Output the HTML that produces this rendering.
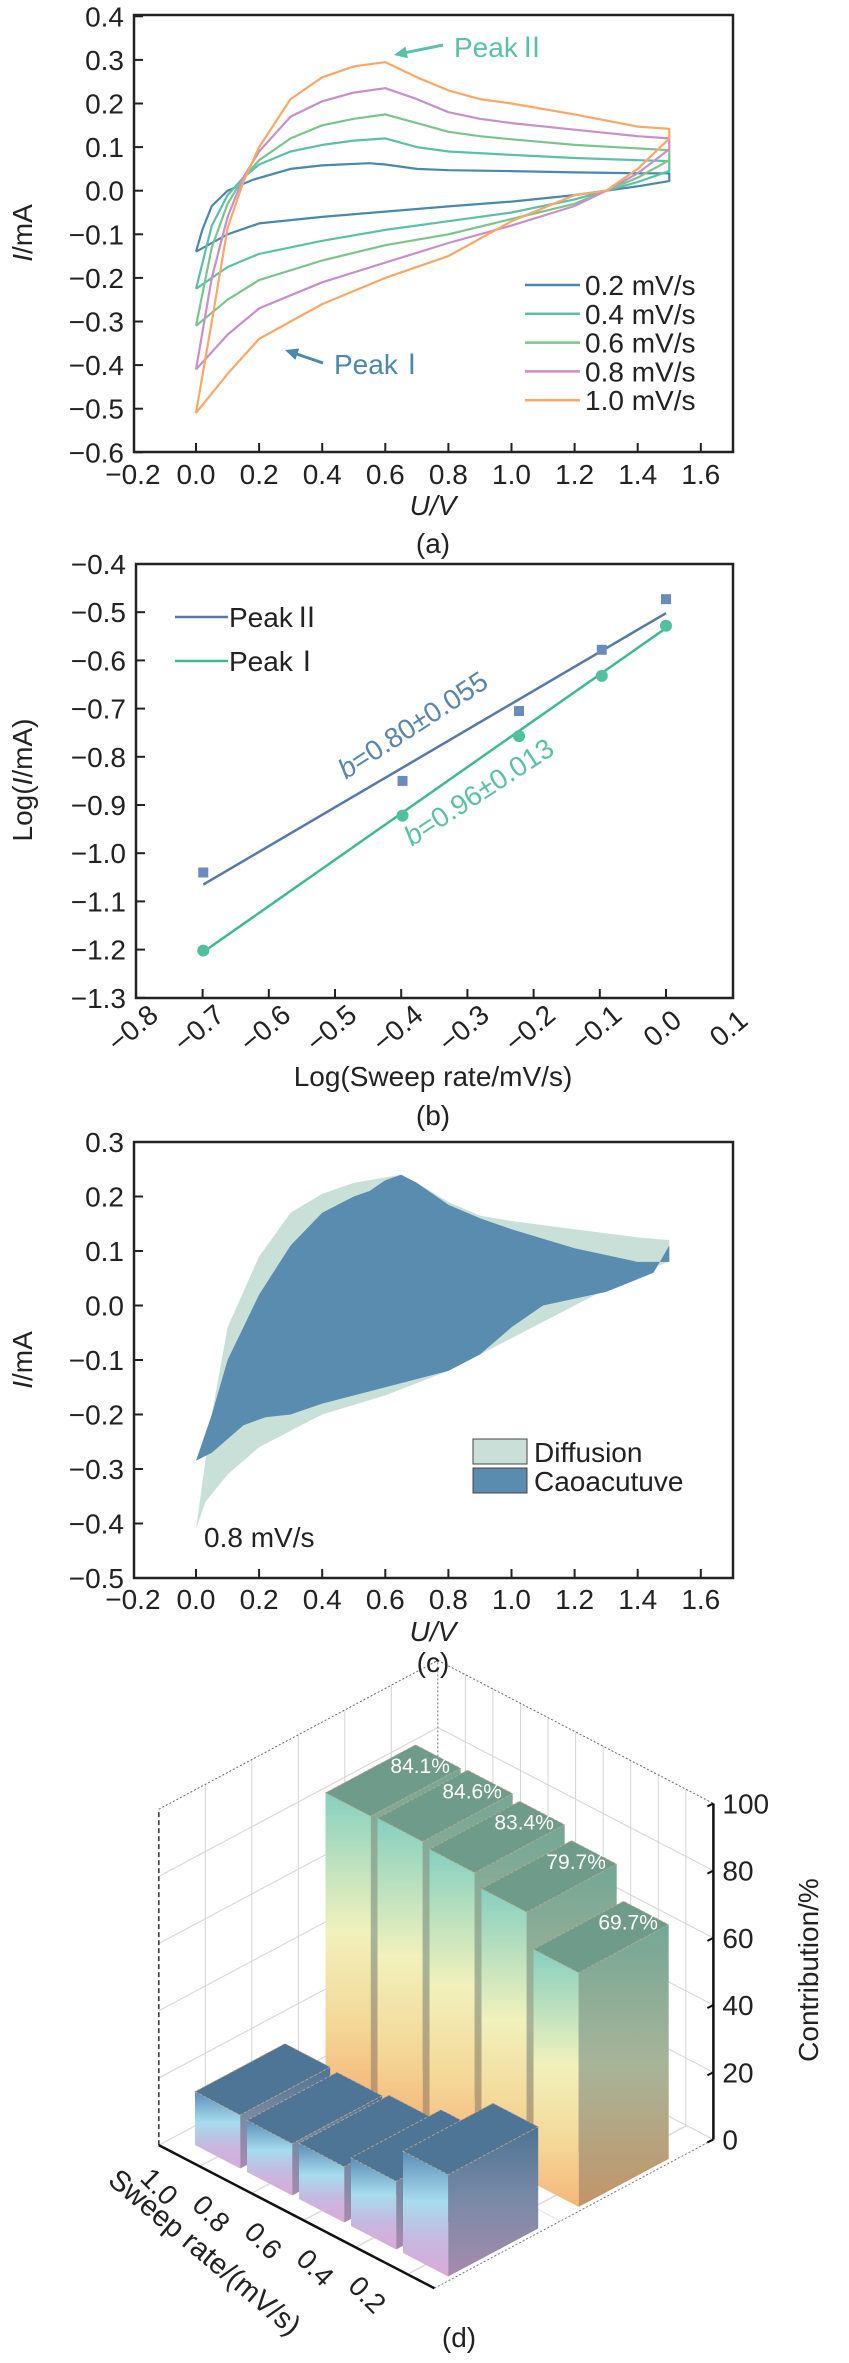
<!DOCTYPE html>
<html><head><meta charset="utf-8">
<style>
html,body{margin:0;padding:0;background:#fff;}
svg{display:block;font-family:"Liberation Sans","Noto Sans CJK SC",sans-serif;}
</style></head>
<body>
<svg id="fig" width="849" height="2363" viewBox="0 0 849 2363">
<defs>
<linearGradient id="tallFront" x1="0" y1="0" x2="0" y2="1">
<stop offset="0" stop-color="#86cfc0"/><stop offset="0.45" stop-color="#f1f1bc"/><stop offset="0.75" stop-color="#f4d898"/><stop offset="1" stop-color="#f6b67a"/>
</linearGradient>
<linearGradient id="tallSide" x1="0" y1="0" x2="0" y2="1">
<stop offset="0" stop-color="#74a696"/><stop offset="0.5" stop-color="#a8b498"/><stop offset="1" stop-color="#c29468"/>
</linearGradient>
<linearGradient id="shortFront" x1="0" y1="0" x2="0" y2="1">
<stop offset="0" stop-color="#5b8db8"/><stop offset="0.4" stop-color="#a6dcee"/><stop offset="0.7" stop-color="#c6b8e0"/><stop offset="1" stop-color="#dcaad8"/>
</linearGradient>
<linearGradient id="shortSide" x1="0" y1="0" x2="0" y2="1">
<stop offset="0" stop-color="#4e7394"/><stop offset="0.5" stop-color="#7a8aa6"/><stop offset="1" stop-color="#a88aae"/>
</linearGradient>
</defs>
</svg>
<script>
// ---------- data: panel (a) ----------
const cvRates = ['0.2 mV/s','0.4 mV/s','0.6 mV/s','0.8 mV/s','1.0 mV/s'];
const cvColors = ['#4a88ac','#5cc0a8','#7cc48c','#c890c8','#f8a868'];
const cvU02 = [0,0.02,0.05,0.1,0.18,0.3,0.4,0.55,0.6,0.7,0.8,1.0,1.2,1.4,1.5,1.5,1.4,1.2,1.0,0.8,0.6,0.4,0.2,0.1,0];
const cvI02 = [-0.14,-0.09,-0.035,0.0,0.025,0.05,0.058,0.063,0.06,0.05,0.047,0.045,0.042,0.04,0.04,0.022,0.01,-0.01,-0.025,-0.036,-0.048,-0.06,-0.075,-0.1,-0.14];
const cvU04 = [0,0.05,0.1,0.15,0.2,0.3,0.4,0.5,0.6,0.7,0.8,1.0,1.2,1.4,1.5,1.5,1.4,1.2,1.0,0.8,0.6,0.4,0.2,0.1,0];
const cvI04 = [-0.225,-0.08,-0.01,0.03,0.06,0.09,0.105,0.115,0.12,0.1,0.09,0.082,0.075,0.07,0.068,0.045,0.02,-0.02,-0.05,-0.07,-0.09,-0.115,-0.145,-0.175,-0.225];
const cvU06 = [0,0.05,0.1,0.15,0.2,0.3,0.4,0.5,0.6,0.7,0.8,0.9,1.0,1.2,1.4,1.5,1.5,1.4,1.2,1.0,0.8,0.6,0.4,0.2,0.1,0];
const cvI06 = [-0.31,-0.13,-0.03,0.03,0.07,0.12,0.15,0.165,0.175,0.155,0.135,0.125,0.118,0.105,0.097,0.093,0.07,0.03,-0.03,-0.065,-0.1,-0.125,-0.16,-0.205,-0.25,-0.31];
const cvU08 = [0,0.05,0.1,0.15,0.2,0.3,0.4,0.5,0.6,0.7,0.8,0.9,1.0,1.2,1.4,1.5,1.5,1.4,1.3,1.2,1.0,0.8,0.6,0.4,0.3,0.2,0.1,0];
const cvI08 = [-0.41,-0.2,-0.06,0.03,0.09,0.17,0.205,0.225,0.235,0.21,0.18,0.165,0.155,0.14,0.125,0.12,0.095,0.04,0.0,-0.035,-0.08,-0.12,-0.165,-0.21,-0.24,-0.27,-0.33,-0.41];
const cvU10 = [0,0.05,0.1,0.15,0.2,0.3,0.4,0.5,0.6,0.7,0.8,0.9,1.0,1.2,1.4,1.5,1.5,1.4,1.3,1.2,1.0,0.8,0.6,0.4,0.3,0.2,0.1,0];
const cvI10 = [-0.51,-0.3,-0.085,0.02,0.1,0.21,0.26,0.285,0.295,0.26,0.23,0.21,0.2,0.175,0.147,0.142,0.12,0.05,0.0,-0.01,-0.07,-0.15,-0.2,-0.26,-0.3,-0.34,-0.42,-0.51];
const cvUs = [cvU02,cvU04,cvU06,cvU08,cvU10];
const cvIs = [cvI02,cvI04,cvI06,cvI08,cvI10];
const aXTicks = [-0.2,0,0.2,0.4,0.6,0.8,1.0,1.2,1.4,1.6];
const aYTicks = [-0.6,-0.5,-0.4,-0.3,-0.2,-0.1,0,0.1,0.2,0.3,0.4];

// ---------- data: panel (b) ----------
const logRate = [-0.699,-0.398,-0.222,-0.097,0];
const peak2Log = [-1.04,-0.85,-0.705,-0.578,-0.473];
const peak1Log = [-1.202,-0.922,-0.757,-0.632,-0.528];
const peak2Fit = [-1.065,-0.502];
const peak1Fit = [-1.205,-0.533];
const fitX = [-0.699,0];
const bXTicks = [-0.8,-0.7,-0.6,-0.5,-0.4,-0.3,-0.2,-0.1,0,0.1];
const bYTicks = [-1.3,-1.2,-1.1,-1.0,-0.9,-0.8,-0.7,-0.6,-0.5,-0.4];

// ---------- data: panel (c) ----------
const totU = [0,0.05,0.1,0.2,0.3,0.4,0.5,0.6,0.65,0.7,0.8,0.9,1.0,1.2,1.4,1.5,1.5,1.4,1.3,1.2,1.0,0.8,0.6,0.4,0.3,0.2,0.1,0.03,0];
const totI = [-0.41,-0.2,-0.04,0.09,0.17,0.205,0.225,0.235,0.24,0.225,0.19,0.165,0.155,0.14,0.125,0.12,0.08,0.06,0.03,0.0,-0.06,-0.12,-0.165,-0.2,-0.23,-0.26,-0.31,-0.36,-0.41];
const capU = [0,0.05,0.1,0.2,0.3,0.4,0.5,0.55,0.6,0.65,0.7,0.8,0.9,1.0,1.2,1.4,1.5,1.5,1.45,1.3,1.1,1.0,0.9,0.8,0.6,0.4,0.3,0.22,0.15,0.05,0];
const capI = [-0.285,-0.2,-0.1,0.02,0.11,0.17,0.2,0.21,0.23,0.24,0.225,0.185,0.16,0.14,0.105,0.08,0.08,0.11,0.06,0.025,0.0,-0.04,-0.09,-0.12,-0.15,-0.18,-0.2,-0.205,-0.22,-0.27,-0.285];
const cYTicks = [-0.5,-0.4,-0.3,-0.2,-0.1,0,0.1,0.2,0.3];

// ---------- data: panel (d) ----------
const sweepLabels = ['0.2','0.4','0.6','0.8','1.0'];
const capacitive = [69.7,79.7,83.4,84.6,84.1];
const diffusion = [30.3,20.3,16.6,15.4,15.9];
const capLabels = ['69.7%','79.7%','83.4%','84.6%','84.1%'];
const zTicks = [0,20,40,60,80,100];

const NS='http://www.w3.org/2000/svg';
const svg=document.getElementById('fig');
function mk(p,tag,a){const e=document.createElementNS(NS,tag);for(const k in a)e.setAttribute(k,a[k]);p.appendChild(e);return e;}
function nm(e,n){
  
  
  return e;
}
function group(n){const g=mk(svg,'g',{});nm(g,n);return g;}
function txt(p,s,x,y,a){const t=mk(p,'text',Object.assign({x:x,y:y},a||{}));t.textContent=s;return t;}
function fmt(v,d){if(Math.abs(v)<1e-9)return (0).toFixed(d);return v<0?'\u2212'+(-v).toFixed(d):v.toFixed(d);}
const FS=28;

// ===== panel a =====
const ax=u=>196+u*315.5, ay=i=>190.7-i*436;
const ga=group('panel-a');
nm(mk(ga,'rect',{x:134,y:15,width:599,height:437,fill:'none',stroke:'#222','stroke-width':2.5}),'plot-frame-a');
aXTicks.forEach(v=>{
  if(v>-0.19) nm(mk(ga,'line',{x1:ax(v),x2:ax(v),y1:452,y2:443,stroke:'#222','stroke-width':2}),'x-tick-a');
  nm(txt(ga,fmt(v,1),ax(v),484,{'font-size':FS,'text-anchor':'middle',fill:'#222'}),'x-tick-label-a');
});
aYTicks.forEach(v=>{
  nm(mk(ga,'line',{x1:134,x2:143,y1:ay(v),y2:ay(v),stroke:'#222','stroke-width':2}),'y-tick-a');
  nm(txt(ga,fmt(v,1),124,ay(v)+10,{'font-size':FS,'text-anchor':'end',fill:'#222'}),'y-tick-label-a');
});
cvUs.forEach((U,s)=>{
  const d=U.map((u,k)=>(k?'L':'M')+ax(u).toFixed(1)+' '+ay(cvIs[s][k]).toFixed(1)).join(' ');
  const p=mk(ga,'path',{d:d,fill:'none',stroke:cvColors[s],'stroke-width':2.2,'stroke-linejoin':'round'});
  nm(p,'cv-curve-'+s);
  const ly=285+s*28.8;
  nm(mk(ga,'line',{x1:525,x2:580,y1:ly,y2:ly,stroke:cvColors[s],'stroke-width':2.5}),'legend-line');
  nm(txt(ga,cvRates[s],585,ly+10,{'font-size':FS,fill:'#222'}),'legend-label');
});
nm(txt(ga,'U/V',433,515,{'font-size':FS,'text-anchor':'middle','font-style':'italic',fill:'#222'}),'x-axis-title-a');
nm(txt(ga,'(a)',433,553,{'font-size':FS,'text-anchor':'middle',fill:'#222'}),'panel-label-a');
const yta=txt(ga,'',32,233,{'font-size':FS,'text-anchor':'middle',transform:'rotate(-90 32 233)',fill:'#222'});
nm(yta,'y-axis-title-a');
yta.innerHTML='<tspan font-style="italic">I</tspan>/mA';
function arrow(g,x1,y1,x2,y2,c,n){
  const a=Math.atan2(y2-y1,x2-x1),L=13,W=6;
  nm(mk(g,'line',{x1:x1,y1:y1,x2:x2-Math.cos(a)*L*0.8,y2:y2-Math.sin(a)*L*0.8,stroke:c,'stroke-width':3}),n+'-shaft');
  const bx=x2-Math.cos(a)*L,by=y2-Math.sin(a)*L;
  nm(mk(g,'polygon',{points:`${x2},${y2} ${bx-Math.sin(a)*W},${by+Math.cos(a)*W} ${bx+Math.sin(a)*W},${by-Math.cos(a)*W}`,fill:c}),n+'-head');
}
arrow(ga,443,45,394,55,'#5cc0a8','peak2-arrow');
nm(txt(ga,'Peak\u2161',454,57,{'font-size':FS,fill:'#5cc0a8'}),'peak2-label');
arrow(ga,323,363,285,350,'#4a88ac','peak1-arrow');
nm(txt(ga,'Peak\u2160',334,374,{'font-size':FS,fill:'#4a88ac'}),'peak1-label');

// ===== panel b =====
const bx=x=>666+x*662, by=y=>564+(-0.4-y)*482;
const gb=group('panel-b');
nm(mk(gb,'rect',{x:136,y:564,width:597,height:434,fill:'none',stroke:'#222','stroke-width':2.5}),'plot-frame-b');
bXTicks.forEach(v=>{
  if(v>-0.79&&v<0.09) nm(mk(gb,'line',{x1:bx(v),x2:bx(v),y1:998,y2:989,stroke:'#222','stroke-width':2}),'x-tick-b');
  const cx=bx(v)-4,cy=1028;
  nm(txt(gb,fmt(v,1),cx,cy+10,{'font-size':FS,'text-anchor':'middle',transform:`rotate(-40 ${cx} ${cy})`,fill:'#222'}),'x-tick-label-b');
});
bYTicks.forEach(v=>{
  nm(mk(gb,'line',{x1:136,x2:145,y1:by(v),y2:by(v),stroke:'#222','stroke-width':2}),'y-tick-b');
  nm(txt(gb,fmt(v,1),126,by(v)+10,{'font-size':FS,'text-anchor':'end',fill:'#222'}),'y-tick-label-b');
});
nm(mk(gb,'line',{x1:bx(fitX[0]),y1:by(peak2Fit[0]),x2:bx(fitX[1]),y2:by(peak2Fit[1]),stroke:'#5878a8','stroke-width':2.5}),'fit-line-peak2');
nm(mk(gb,'line',{x1:bx(fitX[0]),y1:by(peak1Fit[0]),x2:bx(fitX[1]),y2:by(peak1Fit[1]),stroke:'#40b898','stroke-width':2.5}),'fit-line-peak1');
logRate.forEach((x,k)=>{
  nm(mk(gb,'rect',{x:bx(x)-5,y:by(peak2Log[k])-5,width:10,height:10,fill:'#6a8cbc'}),'point-peak2');
  nm(mk(gb,'circle',{cx:bx(x),cy:by(peak1Log[k]),r:6,fill:'#50c0a0'}),'point-peak1');
});
nm(mk(gb,'line',{x1:175,x2:228,y1:617,y2:617,stroke:'#5878a8','stroke-width':2.5}),'legend-line-peak2');
nm(txt(gb,'Peak\u2161',229,627,{'font-size':FS,fill:'#222'}),'legend-label-peak2');
nm(mk(gb,'line',{x1:175,x2:228,y1:661,y2:661,stroke:'#40b898','stroke-width':2.5}),'legend-line-peak1');
nm(txt(gb,'Peak\u2160',229,671,{'font-size':FS,fill:'#222'}),'legend-label-peak1');
const t1=txt(gb,'',418,733,{'font-size':FS,'text-anchor':'middle',fill:'#5b86a8',transform:'rotate(-33 418 733)'});
nm(t1,'slope-label-peak2');
t1.innerHTML='<tspan font-style="italic">b</tspan>=0.80±0.055';
const t2=txt(gb,'',484,800,{'font-size':FS,'text-anchor':'middle',fill:'#5cc0a8',transform:'rotate(-33 484 800)'});
nm(t2,'slope-label-peak1');
t2.innerHTML='<tspan font-style="italic">b</tspan>=0.96±0.013';
nm(txt(gb,'Log(Sweep rate/mV/s)',433,1086,{'font-size':FS,'text-anchor':'middle',fill:'#222'}),'x-axis-title-b');
nm(txt(gb,'(b)',433,1125,{'font-size':FS,'text-anchor':'middle',fill:'#222'}),'panel-label-b');
const ytb=txt(gb,'',32,780,{'font-size':FS,'text-anchor':'middle',transform:'rotate(-90 32 780)',fill:'#222'});
nm(ytb,'y-axis-title-b');
ytb.innerHTML='Log(<tspan font-style="italic">I</tspan>/mA)';

// ===== panel c =====
const cy=i=>1142+(0.3-i)*545;
const gc=group('panel-c');
nm(mk(gc,'polygon',{points:totU.map((u,k)=>ax(u).toFixed(1)+','+cy(totI[k]).toFixed(1)).join(' '),fill:'#c8e0d8'}),'diffusion-area');
nm(mk(gc,'polygon',{points:capU.map((u,k)=>ax(u).toFixed(1)+','+cy(capI[k]).toFixed(1)).join(' '),fill:'#5a8cb0'}),'capacitive-area');
nm(mk(gc,'rect',{x:134,y:1142,width:599,height:436,fill:'none',stroke:'#222','stroke-width':2.5}),'plot-frame-c');
aXTicks.forEach(v=>{
  if(v>-0.19) nm(mk(gc,'line',{x1:ax(v),x2:ax(v),y1:1578,y2:1569,stroke:'#222','stroke-width':2}),'x-tick-c');
  nm(txt(gc,fmt(v,1),ax(v),1609,{'font-size':FS,'text-anchor':'middle',fill:'#222'}),'x-tick-label-c');
});
cYTicks.forEach(v=>{
  nm(mk(gc,'line',{x1:134,x2:143,y1:cy(v),y2:cy(v),stroke:'#222','stroke-width':2}),'y-tick-c');
  nm(txt(gc,fmt(v,1),124,cy(v)+10,{'font-size':FS,'text-anchor':'end',fill:'#222'}),'y-tick-label-c');
});
nm(mk(gc,'rect',{x:473,y:1439,width:54,height:25,fill:'#c8e0d8',stroke:'#444','stroke-width':1}),'legend-swatch-diffusion');
nm(txt(gc,'Diffusion',534,1462,{'font-size':FS,fill:'#222'}),'legend-label-diffusion');
nm(mk(gc,'rect',{x:473,y:1468,width:54,height:25,fill:'#5a8cb0',stroke:'#444','stroke-width':1}),'legend-swatch-capacitive');
nm(txt(gc,'Caoacutuve',534,1491,{'font-size':FS,fill:'#222'}),'legend-label-capacitive');
nm(txt(gc,'0.8 mV/s',204,1547,{'font-size':FS,fill:'#222'}),'scan-rate-note');
nm(txt(gc,'U/V',433,1641,{'font-size':FS,'text-anchor':'middle','font-style':'italic',fill:'#222'}),'x-axis-title-c');
const ytc=txt(gc,'',32,1360,{'font-size':FS,'text-anchor':'middle',transform:'rotate(-90 32 1360)',fill:'#222'});
nm(ytc,'y-axis-title-c');
ytc.innerHTML='<tspan font-style="italic">I</tspan>/mA';

// ===== panel d (3D bars) =====
const K=3.36;
const P=(u,v,z)=>[195+u*52+v*90, 2145+u*27-v*48-z*K];
const pt=a=>a.map(q=>q[0].toFixed(1)+','+q[1].toFixed(1)).join(' ');
const gd=group('panel-d');
const U0=-0.35,U1=4.95,V0=-0.2,V1=2.9;
nm(mk(gd,'polygon',{points:pt([P(U0,V0,0),P(U0,V1,0),P(U0,V1,100),P(U0,V0,100)]),fill:'none'}),'left-wall');
nm(mk(gd,'polygon',{points:pt([P(U0,V1,0),P(U1,V1,0),P(U1,V1,100),P(U0,V1,100)]),fill:'none'}),'back-wall');
for(let k=1;k<6;k++){const v=V0+k*(V1-V0)/6;const a=P(U0,v,0),b=P(U0,v,100);
  nm(mk(gd,'line',{x1:a[0],y1:a[1],x2:b[0],y2:b[1],stroke:'#d4d4d4','stroke-width':1}),'left-wall-grid');}
for(let k=1;k<10;k++){const u=U0+k*(U1-U0)/10;const a=P(u,V1,0),b=P(u,V1,100);
  nm(mk(gd,'line',{x1:a[0],y1:a[1],x2:b[0],y2:b[1],stroke:'#d4d4d4','stroke-width':1}),'back-wall-grid');}
zTicks.forEach(z=>{
  const a=P(U0,V0,z),b=P(U0,V1,z),c=P(U1,V1,z);
  nm(mk(gd,'polyline',{points:pt([a,b,c]),fill:'none',stroke:z==100?'#666':'#d4d4d4','stroke-width':1,'stroke-dasharray':z==100?'2 2':'none'}),'wall-grid-z');
});
for(let k=0;k<5;k++){const a=P(4-k+0.435,V0,0),b=P(4-k+0.435,V1,0);
  nm(mk(gd,'line',{x1:a[0],y1:a[1],x2:b[0],y2:b[1],stroke:'#dcdcdc','stroke-width':1.5}),'floor-grid');}
[0.5,1.2,2.0].forEach(v=>{const a=P(U0,v,0),b=P(U1,v,0);
  nm(mk(gd,'line',{x1:a[0],y1:a[1],x2:b[0],y2:b[1],stroke:'#e4e4e4','stroke-width':1}),'floor-grid');});
{const a=P(U0,V0,0),b=P(U0,V0,100);nm(mk(gd,'line',{x1:a[0],y1:a[1],x2:b[0],y2:b[1],stroke:'#333','stroke-width':1.5,'stroke-dasharray':'5 3'}),'left-wall-edge');}
{const a=P(U0,V1,0),b=P(U0,V1,100);nm(mk(gd,'line',{x1:a[0],y1:a[1],x2:b[0],y2:b[1],stroke:'#777','stroke-width':1,'stroke-dasharray':'2 2'}),'back-corner-edge');}
{const a=P(U1,V0,0),b=P(U1,V1,0);nm(mk(gd,'line',{x1:a[0],y1:a[1],x2:b[0],y2:b[1],stroke:'#777','stroke-width':1,'stroke-dasharray':'2 2'}),'floor-right-edge');}
function box(p,v0,v1,h,front,side,top,n){
  const u0=p,u1=p+0.87;
  nm(mk(gd,'polygon',{points:pt([P(u0,v0,0),P(u1,v0,0),P(u1,v0,h),P(u0,v0,h)]),fill:front}),n+'-front');
  nm(mk(gd,'polygon',{points:pt([P(u1,v0,0),P(u1,v1,0),P(u1,v1,h),P(u1,v0,h)]),fill:side}),n+'-side');
  nm(mk(gd,'polygon',{points:pt([P(u0,v0,h),P(u1,v0,h),P(u1,v1,h),P(u0,v1,h)]),fill:top,stroke:'#c8a888','stroke-width':0.8,'stroke-dasharray':'3 2'}),n+'-top');
}
for(let i=4;i>=0;i--) box(4-i,1.45,2.45,capacitive[i],'url(#tallFront)','url(#tallSide)','#6f9b8b','capacitive-bar-'+sweepLabels[i]);
for(let i=4;i>=0;i--){
  const c=P(4-i+0.435,2.25,capacitive[i]);
  nm(txt(gd,capLabels[i],c[0],c[1]+7,{'font-size':21,'text-anchor':'middle',fill:'#fff'}),'bar-value-label');
}
for(let i=4;i>=0;i--) box(4-i,0,1,diffusion[i],'url(#shortFront)','url(#shortSide)','#4f7596','diffusion-bar-'+sweepLabels[i]);
{const a=P(U0,V0,0),b=P(U1,V0,0);nm(mk(gd,'line',{x1:a[0],y1:a[1],x2:b[0],y2:b[1],stroke:'#111','stroke-width':2.5}),'sweep-rate-axis');}
sweepLabels.forEach((s,i)=>{
  const c=P(4-i+0.435,V0,0);const x=c[0]-40,y=c[1]+20;
  nm(txt(gd,s,x,y+10,{'font-size':FS,'text-anchor':'middle',transform:`rotate(45 ${x} ${y})`,fill:'#222'}),'sweep-tick-label');
});
nm(txt(gd,'Sweep rate/(mV/s)',205,2262,{'font-size':29,'text-anchor':'middle',transform:'rotate(40 205 2252)',fill:'#222'}),'sweep-axis-title');
{const a=P(U1,V1,0),b=P(U1,V1,100);nm(mk(gd,'line',{x1:a[0],y1:a[1],x2:b[0],y2:b[1],stroke:'#111','stroke-width':2.5}),'contribution-axis');
zTicks.forEach(z=>{const q=P(U1,V1,z);
  nm(mk(gd,'line',{x1:q[0]-6,y1:q[1]+3,x2:q[0],y2:q[1],stroke:'#111','stroke-width':2}),'z-tick');
  nm(txt(gd,String(z),q[0]+9,q[1]+10,{'font-size':FS,fill:'#222'}),'z-tick-label');});}
nm(txt(gd,'Contribution/%',818,1970,{'font-size':FS,'text-anchor':'middle',transform:'rotate(-90 818 1970)',fill:'#222'}),'contribution-axis-title');
nm(txt(gd,'(d)',459,2347,{'font-size':FS,'text-anchor':'middle',fill:'#222'}),'panel-label-d');
nm(txt(gd,'(c)',433,1672,{'font-size':FS,'text-anchor':'middle',fill:'#222'}),'panel-label-c');
</script>
</body></html>
